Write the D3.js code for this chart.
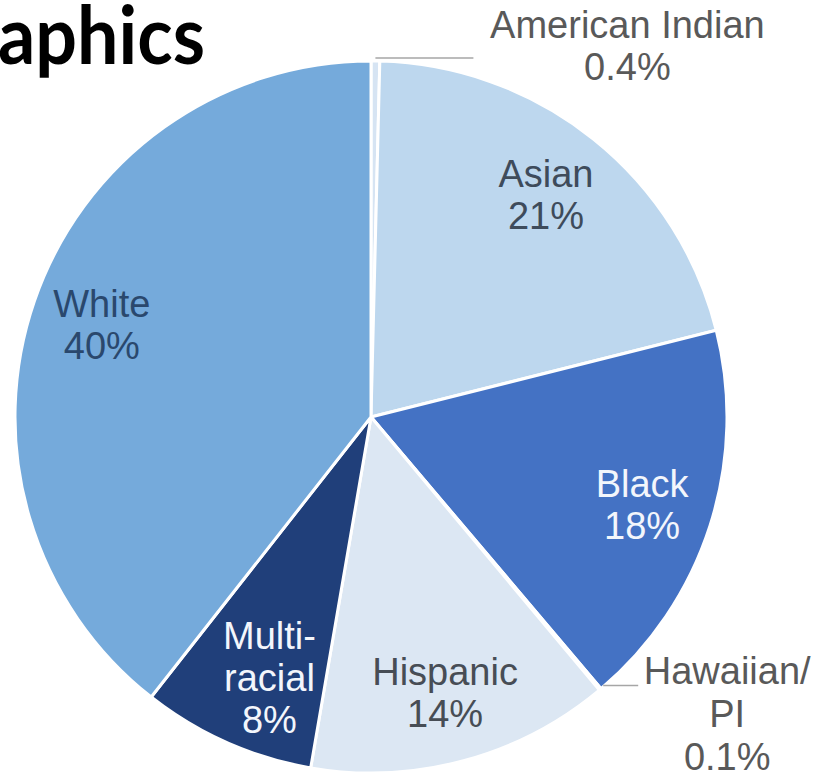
<!DOCTYPE html>
<html><head><meta charset="utf-8">
<script src="https://cdn.jsdelivr.net/npm/d3@7/dist/d3.min.js"></script>
<style>html,body{margin:0;padding:0;background:#fff;overflow:hidden}</style>
</head><body>
<svg id="c" width="817" height="778"></svg>
<script>
const categories = ["American Indian","Asian","Black","Hawaiian/PI","Hispanic","Multiracial","White"];
const values = [0.4, 21, 18, 0.1, 14, 8, 40];
const labelLines = [["American Indian","0.4%"],["Asian","21%"],["Black","18%"],["Hawaiian/","PI","0.1%"],["Hispanic","14%"],["Multi-","racial","8%"],["White","40%"]];
const colors = ["#d6e4f3","#bdd7ee","#4472c4","#2e75b6","#dce7f3","#203f7a","#75aadb"];
const labelColors = ["#595959","#3e4b5b","#f3f6fc","#595959","#474d55","#f3f6fc","#2a486d"];
const outside = [true,false,false,true,false,false,false];
const title = "aphics";

const svg = d3.select("#c");
const cx = 371, cy = 417, R = 356;
const g = svg.append("g").attr("transform",`translate(${cx},${cy})`);

const data = categories.map((c,i)=>({name:c, value:values[i], i}));
const pie = d3.pie().sort(null).value(d=>d.value).startAngle(0).endAngle(2*Math.PI);
const arcs = pie(data);
const arc = d3.arc().innerRadius(0).outerRadius(R);
const labelArc = d3.arc().innerRadius(R*0.8).outerRadius(R*0.8);

g.selectAll("path.slice").data(arcs).join("path")
  .attr("class","slice")
  .attr("d",arc)
  .attr("fill",d=>colors[d.data.i])
  .attr("stroke","#ffffff")
  .attr("stroke-width",3)
  .attr("stroke-linejoin","round");

const fs = 38, lh = 42;
const font = "'Liberation Sans', Arial, sans-serif";
const nudgeX = {5: 14, 1: -3};

// inside labels
arcs.filter(d=>!outside[d.data.i]).forEach(d=>{
  let [x,y] = labelArc.centroid(d);
  x += (nudgeX[d.data.i] || 0);
  const lines = labelLines[d.data.i];
  const n = lines.length;
  const capH = fs*0.716;
  const firstBase = y - (n-1)*lh/2 + capH/2;
  const t = g.append("text").attr("text-anchor","middle")
    .attr("font-family",font).attr("font-size",fs)
    .attr("fill",labelColors[d.data.i]);
  lines.forEach((l,k)=>t.append("tspan").attr("x",x).attr("y",firstBase+k*lh).text(l));
});

// outside labels with leader lines
const ai = arcs[0], hw = arcs[3];
function outerPt(d){ const a=(d.startAngle+d.endAngle)/2; return [R*Math.sin(a), -R*Math.cos(a)]; }
{
  const [x,y] = outerPt(ai);
  g.append("path").attr("d",`M${x},${y-3}L${x+98},${y-3}`)
    .attr("stroke","#a6a6a6").attr("stroke-width",1.5).attr("fill","none");
  const t = g.append("text").attr("text-anchor","middle").attr("font-family",font).attr("font-size",fs).attr("fill",labelColors[0]);
  labelLines[0].forEach((l,k)=>t.append("tspan").attr("x",x+252).attr("y",38-cy+k*lh).text(l));
}
{
  const [x,y] = outerPt(hw);
  g.append("path").attr("d",`M${x+3},${y-4}L${x+38},${y-4}`)
    .attr("stroke","#a6a6a6").attr("stroke-width",1.5).attr("fill","none");
  const t = g.append("text").attr("text-anchor","middle").attr("font-family",font).attr("font-size",fs).attr("fill",labelColors[3]);
  labelLines[3].forEach((l,k)=>t.append("tspan").attr("x",x+127).attr("y",y-5+k*43).text(l));
}

// title fragment
svg.append("text").attr("x",-2).attr("y",64)
  .attr("font-family","Lato, 'Open Sans', sans-serif").attr("font-weight",700)
  .attr("font-size",80).attr("fill","#000")
  .attr("textLength",207).attr("lengthAdjust","spacingAndGlyphs")
  .text(title);
</script>
</body></html>
